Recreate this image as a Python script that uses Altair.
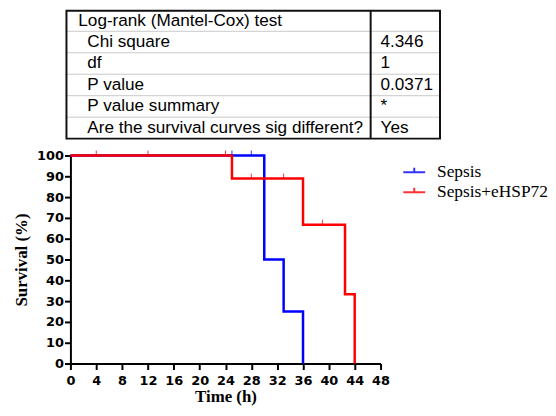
import altair as alt
import pandas as pd

# ---- data ----
groups = ["Sepsis", "Sepsis+eHSP72"]

sepsis_time = [0, 30, 33, 36]
sepsis_surv = [100, 50, 25, 0]
hsp_time = [0, 25, 36, 42.5, 44]
hsp_surv = [100, 88.9, 66.7, 33.3, 0]

sepsis_cens_time = [25, 28]
sepsis_cens_surv = [100, 100]
hsp_cens_time = [4, 12, 24, 28, 33, 39]
hsp_cens_surv = [100, 100, 100, 88.9, 88.9, 66.7]

table_labels = ["Log-rank (Mantel-Cox) test", "Chi square", "df", "P value",
                "P value summary", "Are the survival curves sig different?"]
table_values = ["", "4.346", "1", "0.0371", "*", "Yes"]

x_ticks = list(range(0, 49, 4))
y_ticks = list(range(0, 101, 10))

# ---- tables for the library ----
sep_df = pd.DataFrame({"time": sepsis_time, "surv": sepsis_surv, "group": groups[0]})
hsp_df = pd.DataFrame({"time": hsp_time, "surv": hsp_surv, "group": groups[1]})
cens_df = pd.concat([
    pd.DataFrame({"time": sepsis_cens_time, "surv": sepsis_cens_surv, "group": groups[0]}),
    pd.DataFrame({"time": hsp_cens_time, "surv": hsp_cens_surv, "group": groups[1]}),
])
tab_df = pd.DataFrame({"row": list(range(len(table_labels))),
                       "label": table_labels, "value": table_values})

# ---- table panel ----
TH = 130
GAP = 17
ROW = alt.Scale(paddingInner=0, paddingOuter=0)
yrow = alt.Y("row:O", scale=ROW, axis=None)
L, R, DIV = -4, 373, 303

tbase = alt.Chart(tab_df)
one = alt.Chart(pd.DataFrame({"k": [0]}))

sep_lines = tbase.transform_filter("datum.row > 0").mark_rule(
    color="#c8c8c8", strokeWidth=1).encode(
    y=alt.Y("row:O", scale=ROW, axis=None, bandPosition=0),
    x=alt.value(L), x2=alt.value(R))
txt = dict(align="left", baseline="middle", font="Liberation Sans", fontSize=17.3,
           color="black")
header = tbase.transform_filter("datum.row == 0").mark_text(**txt).encode(
    y=yrow, x=alt.value(8), text="label:N")
labels = tbase.transform_filter("datum.row > 0").mark_text(**txt).encode(
    y=yrow, x=alt.value(17), text="label:N")
vals = tbase.mark_text(**txt).encode(y=yrow, x=alt.value(313), text="value:N")
frame = one.mark_rect(filled=False, stroke="#111111", strokeWidth=2).encode(
    x=alt.value(L), x2=alt.value(R), y=alt.value(1), y2=alt.value(TH))
divider = one.mark_rule(color="#111111", strokeWidth=2).encode(
    x=alt.value(DIV), y=alt.value(1), y2=alt.value(TH))

table = alt.layer(sep_lines, header, labels, vals, frame, divider).properties(
    width=313, height=TH)

# ---- survival panel ----
X = alt.X("time:Q", scale=alt.Scale(domain=[0, 48], nice=False),
          axis=alt.Axis(values=x_ticks, title="Time (h)", grid=False,
                        labelFlush=False, labelOverlap=False))
Y = alt.Y("surv:Q", scale=alt.Scale(domain=[0, 100], nice=False),
          axis=alt.Axis(values=y_ticks, title="Survival (%)", grid=False,
                        labelOverlap=False))
C = alt.Color("group:N", scale=alt.Scale(domain=groups, range=["#0000FF", "#FF0000"]),
              legend=alt.Legend(title=None, orient="none", legendX=336,
                                legendY=TH + GAP + 6,
                                symbolType="M-1.1,0L1.1,0M0,0L0,-0.45",
                                symbolSize=400, symbolStrokeWidth=2,
                                labelFont="Liberation Serif", labelFontSize=17.5,
                                labelColor="black", labelOffset=12,
                                rowPadding=0, padding=0))

blue = alt.Chart(sep_df).mark_line(interpolate="step-after", strokeWidth=2.5).encode(
    x=X, y=Y, color=C)
red = alt.Chart(hsp_df).mark_line(interpolate="step-after", strokeWidth=2.5).encode(
    x=X, y=Y, color=C)
cens = alt.Chart(cens_df).mark_point(shape="M0,0L0,-1", size=100, filled=False,
                                     strokeWidth=1, opacity=0.8).encode(
    x=X, y=Y, color=C)

main = alt.layer(blue, red, cens).properties(width=313, height=210)

chart = alt.vconcat(table, main, spacing=GAP, bounds="flush").properties(
    padding={"left": 4, "top": 0, "right": 0, "bottom": 0}
).configure_view(stroke=None).configure_axis(
    domainColor="black", domainWidth=2, tickColor="black", tickWidth=2, tickSize=6,
    labelFont="DejaVu Sans", labelFontWeight="bold", labelFontSize=13,
    labelColor="black", titleFont="Liberation Serif", titleFontWeight="bold",
    titleFontSize=17, titleColor="black"
).configure_axisX(labelPadding=5, titlePadding=1).configure_axisY(
    labelPadding=1, titlePadding=6)

chart.save("out.html", embed_options={"renderer": "svg", "actions": False})
